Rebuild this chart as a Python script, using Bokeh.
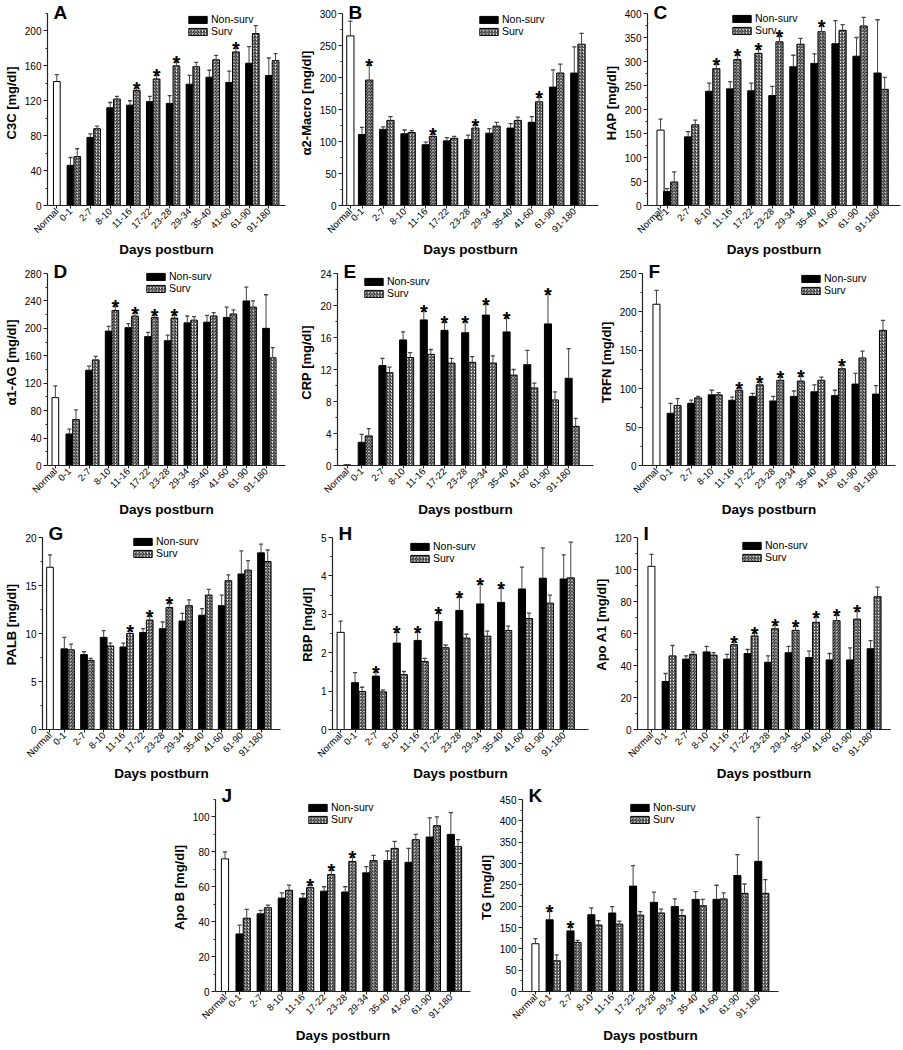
from bokeh.plotting import figure
from bokeh.models import Range1d, FixedTicker, Label, Legend, LegendItem, Spacer
from bokeh.layouts import column, row
from bokeh.embed import file_html
from bokeh.resources import INLINE
from bokeh.core.properties import value

FONT = "Liberation Sans"

groups = ["0-1", "2-7", "8-10", "11-16", "17-22", "23-28", "29-34", "35-40", "41-60", "61-90", "91-180"]

# ---------------- data (means and upper end of error bars) ----------------
A_normal, A_normal_hi = 142, 150
A_ns = [46, 78, 112, 115, 119, 117, 139, 147, 141, 163, 149]
A_ns_hi = [55, 82, 118, 120, 125, 126, 149, 155, 154, 182, 169]
A_sv = [56, 88, 122, 132, 145, 160, 159, 167, 176, 197, 166]
A_sv_hi = [65, 91, 125, 135, 149, 165, 164, 172, 180, 206, 174]
A_stars = ["11-16", "17-22", "23-28", "41-60"]

B_normal, B_normal_hi = 265, 288
B_ns = [111, 119, 112, 95, 101, 103, 113, 121, 130, 185, 207]
B_ns_hi = [122, 123, 118, 99, 106, 110, 120, 128, 139, 212, 248]
B_sv = [196, 133, 114, 108, 105, 121, 124, 133, 162, 207, 252]
B_sv_hi = [219, 139, 117, 112, 108, 126, 130, 138, 169, 221, 269]
B_stars = ["0-1", "11-16", "23-28", "41-60"]

C_normal, C_normal_hi = 157, 180
C_ns = [29, 143, 238, 243, 239, 229, 289, 296, 337, 311, 276]
C_ns_hi = [35, 154, 255, 258, 255, 248, 313, 316, 385, 350, 387]
C_sv = [49, 168, 285, 304, 317, 341, 336, 362, 365, 374, 242]
C_sv_hi = [70, 178, 294, 314, 326, 353, 348, 375, 377, 392, 267]
C_stars = ["8-10", "11-16", "17-22", "23-28", "35-40"]

D_normal, D_normal_hi = 99, 116
D_ns = [46, 139, 196, 201, 188, 182, 208, 209, 216, 240, 200]
D_ns_hi = [53, 145, 203, 207, 194, 190, 218, 219, 231, 260, 249]
D_sv = [67, 154, 226, 218, 216, 215, 212, 218, 221, 231, 157]
D_sv_hi = [81, 159, 232, 223, 220, 220, 217, 223, 227, 240, 172]
D_stars = ["8-10", "11-16", "17-22", "23-28"]

E_normal, E_normal_hi = 0.08, 0.1
E_ns = [2.9, 12.5, 15.7, 18.2, 16.9, 16.6, 18.8, 16.7, 12.6, 17.7, 10.9]
E_ns_hi = [3.9, 13.4, 16.7, 19.3, 17.9, 18.0, 20.2, 18.5, 14.4, 21.5, 14.6]
E_sv = [3.7, 11.6, 13.5, 13.9, 12.8, 12.9, 12.8, 11.3, 9.7, 8.2, 4.9]
E_sv_hi = [4.6, 12.3, 14.1, 14.5, 13.4, 13.6, 13.7, 12.0, 10.3, 9.2, 5.9]
E_stars = ["11-16", "17-22", "23-28", "29-34", "35-40", "61-90"]

F_normal, F_normal_hi = 210, 228
F_ns = [68, 81, 92, 85, 90, 84, 90, 96, 91, 106, 93]
F_ns_hi = [81, 85, 98, 89, 94, 90, 97, 105, 98, 120, 104]
F_sv = [78, 88, 92, 98, 105, 111, 110, 111, 126, 140, 176]
F_sv_hi = [87, 90, 95, 101, 109, 115, 116, 115, 131, 149, 189]
F_stars = ["11-16", "17-22", "23-28", "29-34", "41-60"]

G_normal, G_normal_hi = 16.9, 18.2
G_ns = [8.4, 7.8, 9.6, 8.6, 10.1, 10.5, 11.3, 11.9, 12.9, 16.2, 18.4]
G_ns_hi = [9.6, 8.1, 10.3, 9.0, 10.5, 11.2, 12.1, 12.6, 14.0, 18.6, 19.3]
G_sv = [8.3, 7.2, 8.7, 10.0, 11.4, 12.7, 12.9, 14.0, 15.5, 16.6, 17.5]
G_sv_hi = [8.9, 7.4, 9.0, 10.3, 11.8, 13.2, 13.5, 14.6, 16.1, 17.6, 18.7]
G_stars = ["11-16", "17-22", "23-28"]

H_normal, H_normal_hi = 2.53, 2.82
H_ns = [1.22, 1.39, 2.25, 2.32, 2.81, 3.10, 3.27, 3.31, 3.66, 3.94, 3.92]
H_ns_hi = [1.48, 1.50, 2.53, 2.55, 3.04, 3.44, 3.80, 3.69, 4.23, 4.73, 4.55]
H_sv = [0.99, 0.98, 1.43, 1.77, 2.13, 2.38, 2.43, 2.58, 2.89, 3.29, 3.95]
H_sv_hi = [1.10, 1.03, 1.51, 1.85, 2.20, 2.48, 2.56, 2.69, 3.03, 3.50, 4.88]
H_stars = ["2-7", "8-10", "11-16", "17-22", "23-28", "29-34", "35-40"]

I_normal, I_normal_hi = 102, 109.5
I_ns = [30, 44, 48.5, 44, 47.5, 42, 48, 45, 43.5, 43.5, 50.5]
I_ns_hi = [35, 46, 52, 47, 50, 46, 52, 49, 47.5, 51, 55.5]
I_sv = [46, 47, 46.5, 53, 58.5, 63, 62, 67, 68, 69, 83]
I_sv_hi = [52.5, 48.5, 48, 55, 60.5, 65.5, 65, 70.5, 71.5, 74, 89]
I_stars = ["11-16", "17-22", "23-28", "29-34", "35-40", "41-60", "61-90"]

J_normal, J_normal_hi = 76, 80
J_ns = [33, 44.5, 53.5, 53.5, 57.5, 57, 68, 75, 74, 88.5, 90]
J_ns_hi = [38, 46.5, 56.5, 56, 60, 60, 71.5, 80.5, 82, 99.5, 102.5]
J_sv = [42, 48, 58, 59.5, 67, 74.5, 75, 82, 87, 95, 83]
J_sv_hi = [47, 49.5, 61, 61, 69.5, 77, 78, 86, 90, 100, 87]
J_stars = ["11-16", "17-22", "23-28"]

K_normal, K_normal_hi = 112, 124
K_ns = [168, 142, 180, 184, 247, 209, 199, 216, 216, 272, 305]
K_ns_hi = [188, 151, 196, 199, 295, 233, 217, 234, 249, 321, 408]
K_sv = [72, 115, 156, 158, 179, 184, 178, 201, 217, 230, 230]
K_sv_hi = [86, 120, 166, 165, 187, 193, 191, 216, 231, 252, 262]
K_stars = ["0-1", "2-7"]

# ---------------- styling / layout ----------------
BW = 0.34      # bar width (group spacing = 1)
CAP = 0.10     # half-width of error bar caps
AH = 192       # height of the y axis (px)
MBB = 50       # bottom border


def panel(letter, ylabel, normal, normal_hi, ns, ns_hi, sv, sv_hi, stars, star_on,
          ymax, ystep, ytop_major, n0, xlo, xhi, leg_x, leg_top,
          fw, mbl, mbr, extra):
    off = BW / 2
    fh = AH + extra
    ytop = ymax * fh / AH
    p = figure(frame_width=fw, frame_height=fh, output_backend="svg", toolbar_location=None,
               x_range=Range1d(xlo + off, xhi + off), y_range=Range1d(0, ytop),
               min_border_left=mbl, min_border_right=mbr, min_border_top=0,
               min_border_bottom=MBB, outline_line_color=None, background_fill_color="white")
    p.xgrid.grid_line_color = None
    p.ygrid.grid_line_color = None

    xs_ns = [i + 1 for i in range(len(groups))]
    xs_sv = [i + 1 + BW for i in range(len(groups))]
    xn = round(n0 + off, 4)

    # bars
    p.vbar(x=[xn], top=[normal], width=BW, bottom=0, fill_color="white",
           line_color="black", line_width=1)
    r_ns = p.vbar(x=xs_ns, top=ns, width=BW, bottom=0, fill_color="black",
                  line_color="black", line_width=1)
    r_sv = p.vbar(x=xs_sv, top=sv, width=BW, bottom=0, fill_color="white",
                  line_color="black", line_width=1, hatch_pattern="right_diagonal_line",
                  hatch_color="black", hatch_scale=3.2, hatch_weight=0.9)

    # error bars (upper only)
    ex = [xn] + xs_ns + xs_sv
    ey0 = [normal] + list(ns) + list(sv)
    ey1 = [normal_hi] + list(ns_hi) + list(sv_hi)
    p.segment(x0=ex, y0=ey0, x1=ex, y1=ey1, line_color="#444444", line_width=1)
    p.segment(x0=[x - CAP for x in ex], y0=ey1, x1=[x + CAP for x in ex], y1=ey1,
              line_color="#444444", line_width=1.3)

    # significance stars
    sx, sy = [], []
    for g in stars:
        k = groups.index(g)
        if star_on == "surv":
            sx.append(xs_sv[k]); sy.append(sv_hi[k])
        else:
            sx.append(xs_ns[k]); sy.append(ns_hi[k])
    p.text(x=sx, y=sy, text=["*"] * len(sx), text_font=value(FONT), text_font_style="bold",
           text_font_size="20px", text_align="center", text_baseline="alphabetic",
           y_offset=1, text_color="black")

    # axes
    majors = []
    v = 0
    while v <= ytop_major + 1e-9:
        majors.append(round(v, 6))
        v += ystep
    minors = []
    v = ystep / 2
    while v <= ymax + 1e-9:
        minors.append(round(v, 6))
        v += ystep
    p.yaxis.ticker = FixedTicker(ticks=majors, minor_ticks=minors)
    p.yaxis.bounds = (0, ymax)
    ticks = [xn] + xs_ns
    p.xaxis.ticker = FixedTicker(ticks=ticks, minor_ticks=[])
    p.xaxis.major_label_overrides = dict(zip(ticks, ["Normal"] + groups))
    p.xaxis.major_label_orientation = 0.785398
    for ax in (p.xaxis[0], p.yaxis[0]):
        ax.axis_line_color = "#222222"
        ax.axis_line_width = 1.2
        ax.major_tick_line_color = "#222222"
        ax.minor_tick_line_color = "#222222"
        ax.major_tick_in = 0
        ax.minor_tick_in = 0
        ax.major_label_text_font = FONT
        ax.major_label_text_color = "black"
        ax.axis_label_text_font = FONT
        ax.axis_label_text_font_style = "bold"
        ax.axis_label_text_color = "black"
    p.yaxis.major_label_standoff = 2
    p.xaxis.major_label_standoff = 1
    p.yaxis.major_tick_out = 4
    p.yaxis.minor_tick_out = 2
    p.xaxis.major_tick_out = 3
    p.yaxis.major_label_text_font_size = "10px"
    p.xaxis.major_label_text_font_size = "9.5px"
    p.yaxis.axis_label = ylabel
    p.xaxis.axis_label = "Days postburn"
    p.yaxis.axis_label_text_font_size = "13px"
    p.xaxis.axis_label_text_font_size = "13.5px"
    p.yaxis.axis_label_standoff = 3
    p.xaxis.axis_label_standoff = 0

    # legend (location = bottom-left corner in frame pixels)
    lh = 24
    leg = Legend(items=[LegendItem(label="Non-surv", renderers=[r_ns]),
                        LegendItem(label="Surv", renderers=[r_sv])],
                 location=(leg_x, fh - extra - leg_top - lh), orientation="vertical",
                 glyph_width=23, glyph_height=9, label_height=10, label_standoff=2,
                 spacing=0, padding=0, margin=0, border_line_color=None,
                 background_fill_alpha=0, label_text_font=FONT,
                 label_text_font_size="10.5px", label_text_color="black")
    p.add_layout(leg)

    # panel letter: centred a few px above the y-axis top, kept inside the frame
    up = min(4.5, extra - 12)
    p.add_layout(Label(x=xlo + off, y=ymax * (AH + up) / AH, x_offset=6, text=letter,
                       text_font=FONT, text_font_style="bold", text_font_size="19px",
                       text_baseline="middle", text_color="black"))
    return p


pA = panel("A", "C3C [mg/dl]", A_normal, A_normal_hi, A_ns, A_ns_hi, A_sv, A_sv_hi, A_stars, "surv",
           220, 40, 200, 0.14, -0.33, 11.67, 139, 0, 238, 42, 10, 13)
pB = panel("B", "\u03b12-Macro [mg/dl]", B_normal, B_normal_hi, B_ns, B_ns_hi, B_sv, B_sv_hi, B_stars, "surv",
           300, 50, 300, 0.28, -0.09, 11.97, 135, 0, 256, 42, 2, 13)
pC = panel("C", "HAP [mg/dl]", C_normal, C_normal_hi, C_ns, C_ns_hi, C_sv, C_sv_hi, C_stars, "surv",
           400, 50, 400, 0.52, -0.10, 11.92, 83, -1, 253, 42, 2, 13)

pD = panel("D", "\u03b11-AG [mg/dl]", D_normal, D_normal_hi, D_ns, D_ns_hi, D_sv, D_sv_hi, D_stars, "surv",
           280, 40, 280, 0.12, -0.28, 11.82, 97, -3, 238, 42, 10, 14)
pE = panel("E", "CRP [mg/dl]", E_normal, E_normal_hi, E_ns, E_ns_hi, E_sv, E_sv_hi, E_stars, "nonsurv",
           24, 4, 24, 0.13, -0.34, 12.03, 25, 2, 256, 42, 2, 14)
pF = panel("F", "TRFN [mg/dl]", F_normal, F_normal_hi, F_ns, F_ns_hi, F_sv, F_sv_hi, F_stars, "surv",
           250, 50, 250, 0.14, -0.54, 11.78, 157, -1, 253, 42, 2, 14)

pG = panel("G", "PALB [mg/dl]", G_normal, G_normal_hi, G_ns, G_ns_hi, G_sv, G_sv_hi, G_stars, "surv",
           20, 5, 20, 0.10, -0.28, 11.82, 89, -2, 238, 42, 10, 18)
pH = panel("H", "RBP [mg/dl]", H_normal, H_normal_hi, H_ns, H_ns_hi, H_sv, H_sv_hi, H_stars, "nonsurv",
           5, 1, 5, 0.14, -0.25, 12.02, 76, 3, 256, 42, 2, 18)
pI = panel("I", "Apo A1 [mg/dl]", I_normal, I_normal_hi, I_ns, I_ns_hi, I_sv, I_sv_hi, I_stars, "surv",
           120, 20, 120, 0.14, -0.54, 11.80, 103, 2, 253, 42, 2, 18)

pJ = panel("J", "Apo B [mg/dl]", J_normal, J_normal_hi, J_ns, J_ns_hi, J_sv, J_sv_hi, J_stars, "surv",
           110, 20, 100, 0.14, -0.31, 11.76, 91, 2, 255, 42, 5, 16)
pK = panel("K", "TG [mg/dl]", K_normal, K_normal_hi, K_ns, K_ns_hi, K_sv, K_sv_hi, K_stars, "nonsurv",
           450, 50, 450, 0.15, -0.47, 11.80, 106, 2, 256, 45, 8, 16)

layout = column(row(pA, pB, pC), row(pD, pE, pF), row(pG, pH, pI),
                row(Spacer(width=168, height=10), pJ, pK))

open("out.html", "w").write(file_html(layout, INLINE))
